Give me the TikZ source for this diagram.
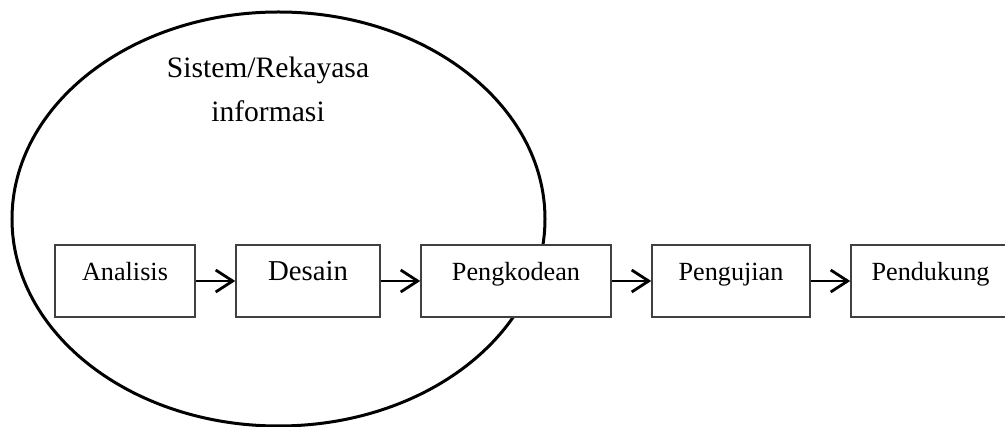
\documentclass[tikz,border=0pt]{standalone}
\usepackage{fontspec}
\setmainfont{Liberation Serif}
\usetikzlibrary{shapes.geometric, arrows.meta, positioning}

\begin{document}
\begin{tikzpicture}[x = 1pt, y = -1pt, node distance = 39.5pt]
\tikzstyle{tahap} = [rectangle, draw = black!75, fill = white, line width = 1.5pt, minimum height = 72pt, text height = 18pt, text depth = 18pt, font = \fontsize{26.2}{30}\selectfont]
\tikzstyle{connect} = [-{Straight Barb[length = 17pt, width = 22pt]}, line width = 2.8pt]
\useasboundingbox (0,0) rectangle (1005,427);
  \node[ellipse, draw, line width = 3pt, minimum width = 533pt, minimum height = 414pt] (sistem) at (278.5,219) {};
  \node[align = center, font = \fontsize{29.6}{44}\selectfont] (judul) at (268,89) {Sistem/Rekayasa\\informasi};
  \node[tahap, minimum width = 140pt] (analisis) at (125,281) {Analisis};
  \node[tahap, minimum width = 144pt, right=of analisis, font = \fontsize{28.8}{32}\selectfont] (desain) {Desain};
  \node[tahap, minimum width = 190pt, right=of desain] (pengkodean) {Pengkodean};
  \node[tahap, minimum width = 158pt, right=of pengkodean] (pengujian) {Pengujian};
  \node[tahap, minimum width = 159pt, right=of pengujian] (pendukung) {Pendukung};
\path (analisis) edge [connect] (desain) (desain) edge [connect] (pengkodean)
  (pengkodean) edge [connect] (pengujian) (pengujian) edge [connect] (pendukung);
\end{tikzpicture}
\end{document}
